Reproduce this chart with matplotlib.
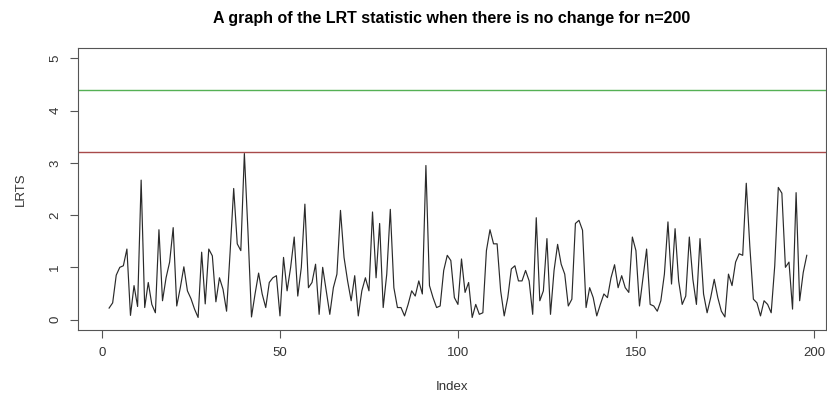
import matplotlib
matplotlib.use("Agg")
import matplotlib.pyplot as plt

plt.rcParams['font.family'] = ['Liberation Sans', 'DejaVu Sans']

# LRT statistic, change points k = 2..198
start_index = 2
lrts = [
    0.22, 0.32, 0.85, 1.00, 1.03, 1.35, 0.08, 0.65, 0.25, 2.67,   # 2-11
    0.23, 0.71, 0.29, 0.13, 1.72, 0.36, 0.80, 1.10, 1.76, 0.26,   # 12-21
    0.61, 1.01, 0.55, 0.40, 0.20, 0.04, 1.29, 0.30, 1.35, 1.22,   # 22-31
    0.34, 0.80, 0.58, 0.16, 1.30, 2.51, 1.45, 1.32, 3.18, 1.70,   # 32-41
    0.05, 0.49, 0.89, 0.49, 0.23, 0.71, 0.80, 0.84, 0.07, 1.19,   # 42-51
    0.55, 1.00, 1.58, 0.45, 1.00, 2.21, 0.61, 0.71, 1.06, 0.10,   # 52-61
    1.00, 0.55, 0.10, 0.61, 0.87, 2.09, 1.19, 0.74, 0.36, 0.84,   # 62-71
    0.07, 0.55, 0.80, 0.55, 2.06, 0.80, 1.84, 0.23, 0.87, 2.11,   # 72-81
    0.61, 0.23, 0.23, 0.07, 0.29, 0.55, 0.45, 0.74, 0.49, 2.95,   # 82-91
    0.65, 0.42, 0.23, 0.26, 0.94, 1.23, 1.13, 0.42, 0.29, 1.16,   # 92-101
    0.52, 0.71, 0.04, 0.29, 0.10, 0.13, 1.32, 1.72, 1.45, 1.45,   # 102-111
    0.55, 0.07, 0.42, 0.97, 1.03, 0.74, 0.74, 0.94, 0.74, 0.10,   # 112-121
    1.95, 0.36, 0.55, 1.55, 0.10, 0.94, 1.44, 1.06, 0.87, 0.26,   # 122-131
    0.39, 1.84, 1.90, 1.71, 0.23, 0.61, 0.42, 0.07, 0.29, 0.49,   # 132-141
    0.42, 0.80, 1.05, 0.61, 0.84, 0.61, 0.52, 1.58, 1.32, 0.26,   # 142-151
    0.80, 1.35, 0.29, 0.26, 0.16, 0.36, 0.87, 1.87, 0.68, 1.74,   # 152-161
    0.74, 0.29, 0.45, 1.58, 0.77, 0.29, 1.55, 0.49, 0.13, 0.42,   # 162-171
    0.77, 0.42, 0.16, 0.05, 0.87, 0.65, 1.10, 1.26, 1.23, 2.61,   # 172-181
    1.40, 0.39, 0.32, 0.07, 0.36, 0.29, 0.13, 1.03, 2.53, 2.42,   # 182-191
    1.00, 1.10, 0.20, 2.43, 0.36, 0.90, 1.23,                     # 192-198
]
index = list(range(start_index, start_index + len(lrts)))

upper_crit = 4.40
lower_crit = 3.20

W, H = 827, 399
fig = plt.figure(figsize=(W / 100, H / 100), dpi=100)
ax = fig.add_axes([78 / W, 1 - 330 / H, (826 - 78) / W, (330 - 48) / H])

ax.plot(index, lrts, color='#2a2a2a', lw=0.85)
ax.axhline(upper_crit, color='#55b055', lw=1.0)
ax.axhline(lower_crit, color='#a84a4a', lw=1.0)

ax.set_xlim(-6.74, 203.4)
ax.set_ylim(-0.2, 5.2)
ax.set_xticks([0, 50, 100, 150, 200])
ax.set_yticks([0, 1, 2, 3, 4, 5])
for lab in ax.get_yticklabels():
    lab.set_rotation(90)
    lab.set_va('center')

ax.tick_params(direction='out', length=6, width=0.8, colors='#555555',
               labelcolor='#333333', labelsize=9.5, pad=6)
for s in ax.spines.values():
    s.set_color('#555555')
    s.set_linewidth(0.8)

ax.set_xlabel('Index', fontsize=9.5, color='#333333', labelpad=16)
ax.set_ylabel('LRTS', fontsize=9.5, color='#333333', labelpad=16)
fig.text((78 + 826) / 2 / W, 1 - 19 / H,
         'A graph of the LRT statistic when there is no change for n=200',
         ha='center', va='center', fontsize=11.5, fontweight='bold')

fig.savefig('out.png', dpi=100)
